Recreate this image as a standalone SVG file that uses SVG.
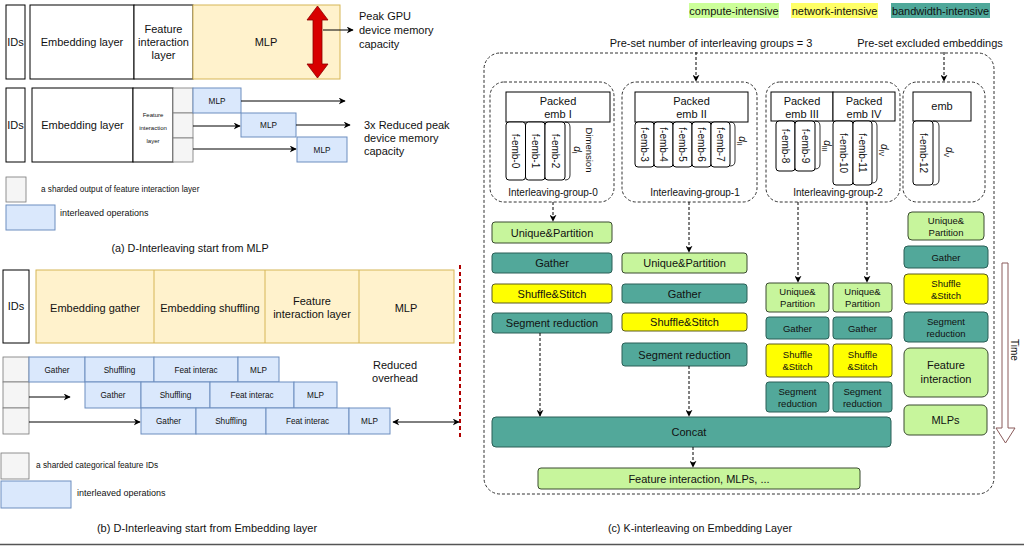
<svg xmlns="http://www.w3.org/2000/svg" width="1024" height="547" viewBox="0 0 1024 547">
<defs>
<marker id="ah" viewBox="0 0 10 10" refX="9" refY="5" markerWidth="7" markerHeight="7" orient="auto-start-reverse"><path d="M0,0 L10,5 L0,10 L3,5 z" fill="#000"/></marker>
<style>
text{font-family:"Liberation Sans",Arial,sans-serif;fill:#111;}
.w{fill:#fff;stroke:#000;stroke-width:1;}
.y{fill:#fff2cc;stroke:#d6b656;stroke-width:1;}
.b{fill:#dae8fc;stroke:#6c8ebf;stroke-width:1;}
.g{fill:#f5f5f5;stroke:#777;stroke-width:0.8;}
.cg{fill:#c7f59c;stroke:#3a4a30;stroke-width:1;}
.ct{fill:#52a89a;stroke:#2a5f56;stroke-width:1;}
.cy{fill:#ffff00;stroke:#5a5a20;stroke-width:1;}
.dash{fill:none;stroke:#333;stroke-width:1;stroke-dasharray:3 2;}
.arr{fill:none;stroke:#000;stroke-width:1;marker-end:url(#ah);}
.darr{fill:none;stroke:#000;stroke-width:1;stroke-dasharray:3 2;marker-end:url(#ah);}
.t11{font-size:11px;text-anchor:middle;}
.t10{font-size:10px;text-anchor:middle;}
.t9{font-size:9.5px;text-anchor:middle;}
.t8{font-size:8.2px;text-anchor:middle;}
.t6{font-size:6px;text-anchor:middle;}
</style>
</defs>

<!-- (a) D-Interleaving start from MLP -->
<g id="a-row1">
<rect class="w" x="6" y="5" width="19" height="74"/>
<text class="t11" x="15.5" y="46">IDs</text>
<rect class="w" x="30" y="5" width="104" height="74"/>
<text class="t11" x="82" y="46">Embedding layer</text>
<rect class="w" x="134" y="5" width="59" height="74"/>
<text class="t11" x="163.5" y="33">Feature</text>
<text class="t11" x="163.5" y="46">interaction</text>
<text class="t11" x="163.5" y="59">layer</text>
<rect class="y" x="193" y="5" width="147" height="74"/>
<text class="t11" x="266" y="46">MLP</text>
<polygon points="317.5,6 328,20 322,20 322,64 328,64 317.5,78 307,64 313,64 313,20 307,20" fill="#d80000" stroke="#8b0000" stroke-width="0.8"/>
<text font-size="11" x="359" y="20">Peak GPU</text>
<text font-size="11" x="359" y="34">device memory</text>
<text font-size="11" x="359" y="48">capacity</text>
</g>
<g id="a-row2">
<rect class="w" x="6" y="88" width="19" height="74"/>
<text class="t11" x="15.5" y="129">IDs</text>
<rect class="w" x="32" y="88" width="101" height="74"/>
<text class="t11" x="82.5" y="129">Embedding layer</text>
<rect class="w" x="133" y="88" width="40" height="74"/>
<text class="t6" x="153" y="117">Feature</text>
<text class="t6" x="153" y="130">interaction</text>
<text class="t6" x="153" y="143">layer</text>
<rect class="g" x="173" y="88" width="20" height="25"/>
<rect class="g" x="173" y="113" width="20" height="25"/>
<rect class="g" x="173" y="138" width="20" height="24"/>
<rect class="b" x="193" y="88" width="48" height="25"/>
<text class="t8" x="217" y="104">MLP</text>
<rect class="b" x="241" y="113" width="55" height="24"/>
<text class="t8" x="268.5" y="128">MLP</text>
<rect class="b" x="297" y="137" width="50" height="25"/>
<text class="t8" x="322" y="153">MLP</text>
<text font-size="11" x="364" y="129">3x Reduced peak</text>
<text font-size="11" x="364" y="142">device memory</text>
<text font-size="11" x="364" y="155">capacity</text>
</g>
<g id="a-legend">
<rect class="g" x="6" y="177" width="20" height="25"/>
<text font-size="8.2" x="41" y="192">a sharded output of feature interaction layer</text>
<rect class="b" x="6" y="205" width="49" height="25"/>
<text font-size="9" x="60" y="216">interleaved operations</text>
<text font-size="10.8" text-anchor="middle" x="190" y="252">(a) D-Interleaving start from MLP</text>
</g>

<!-- (b) D-Interleaving start from Embedding layer -->
<g id="b-row1">
<rect class="w" x="3" y="270" width="26" height="73"/>
<text class="t11" x="16" y="310">IDs</text>
<rect class="y" x="36" y="270" width="418" height="73"/>
<line x1="154" y1="270" x2="154" y2="343" stroke="#d6b656"/>
<line x1="265" y1="270" x2="265" y2="343" stroke="#d6b656"/>
<line x1="359" y1="270" x2="359" y2="343" stroke="#d6b656"/>
<text class="t11" x="95" y="312">Embedding gather</text>
<text class="t11" x="210" y="312">Embedding shuffling</text>
<text class="t11" x="312" y="305">Feature</text>
<text class="t11" x="312" y="318">interaction layer</text>
<text class="t11" x="406" y="312">MLP</text>
</g>
<g id="b-rows">
<rect class="g" x="3" y="357" width="26" height="25"/>
<rect class="g" x="3" y="382" width="26" height="26"/>
<rect class="g" x="3" y="408" width="26" height="26"/>
<rect class="b" x="29" y="357" width="56" height="25"/><text class="t8" x="57" y="372.5">Gather</text>
<rect class="b" x="85" y="357" width="69" height="25"/><text class="t8" x="119.5" y="372.5">Shuffling</text>
<rect class="b" x="154" y="357" width="84" height="25"/><text class="t8" x="196" y="372.5">Feat interac</text>
<rect class="b" x="238" y="357" width="41" height="25"/><text class="t8" x="258.5" y="372.5">MLP</text>
<rect class="b" x="85" y="382" width="56" height="26"/><text class="t8" x="113" y="398">Gather</text>
<rect class="b" x="141" y="382" width="69" height="26"/><text class="t8" x="175.5" y="398">Shuffling</text>
<rect class="b" x="210" y="382" width="84" height="26"/><text class="t8" x="252" y="398">Feat interac</text>
<rect class="b" x="294" y="382" width="43" height="26"/><text class="t8" x="315.5" y="398">MLP</text>
<rect class="b" x="141" y="408" width="55" height="26"/><text class="t8" x="168.5" y="424">Gather</text>
<rect class="b" x="196" y="408" width="70" height="26"/><text class="t8" x="231" y="424">Shuffling</text>
<rect class="b" x="266" y="408" width="83" height="26"/><text class="t8" x="307.5" y="424">Feat interac</text>
<rect class="b" x="349" y="408" width="41" height="26"/><text class="t8" x="369.5" y="424">MLP</text>
<text class="t11" x="395" y="369">Reduced</text>
<text class="t11" x="395" y="382">overhead</text>
<line x1="460" y1="265" x2="460" y2="437" stroke="#b00000" stroke-width="2" stroke-dasharray="4 3"/>
</g>
<g id="b-legend">
<rect class="g" x="1" y="453" width="28" height="26"/>
<text font-size="8.3" x="36" y="468">a sharded categorical feature IDs</text>
<rect class="b" x="1" y="481" width="70" height="27"/>
<text font-size="9" x="77" y="496">interleaved operations</text>
<text font-size="11" text-anchor="middle" x="207" y="532">(b) D-Interleaving start from Embedding layer</text>
</g>

<!-- (c) K-interleaving -->
<g id="c-legend">
<rect x="689" y="3" width="90" height="15" fill="#ccff99"/>
<text class="t11" x="734" y="14.5">compute-intensive</text>
<rect x="791" y="3" width="87" height="15" fill="#ffff66"/>
<text class="t11" x="834.5" y="14.5">network-intensive</text>
<rect x="891" y="3" width="99" height="15" fill="#4fa89a"/>
<text class="t11" x="940.5" y="14.5">bandwidth-intensive</text>
<text class="t11" x="711" y="47">Pre-set number of interleaving groups = 3</text>
<text class="t11" x="930" y="47">Pre-set excluded embeddings</text>
</g>
<g id="c-outer">
<rect class="dash" x="484" y="53" width="510" height="441" rx="16"/>
</g>
<g id="group0">
<rect class="dash" x="490" y="82" width="124" height="120" rx="14"/>
<rect class="w" x="506" y="92" width="104" height="30"/>
<text class="t11" x="558" y="105">Packed</text>
<text class="t11" x="558" y="118">emb I</text>
<rect class="w" x="506" y="122" width="19.5" height="58" rx="3"/>
<rect class="w" x="525.5" y="122" width="19.5" height="58" rx="3"/>
<rect class="w" x="545" y="122" width="20" height="58" rx="3"/>
<text class="t10" transform="translate(515.75,151) rotate(90)" y="3.5">f-emb-0</text>
<text class="t10" transform="translate(535.25,151) rotate(90)" y="3.5">f-emb-1</text>
<text class="t10" transform="translate(555,151) rotate(90)" y="3.5">f-emb-2</text>
<path d="M565,122 q5,0 5,5 v48 q0,5 -5,5" fill="none" stroke="#000" stroke-width="0.8"/>
<text class="t10" transform="translate(574,150) rotate(90)" font-style="italic">d<tspan font-size="7" dy="2" font-style="normal">I</tspan></text>
<text class="t9" transform="translate(586,150) rotate(90)" font-size="9">Dimension</text>
<text class="t10" x="553" y="196">Interleaving-group-0</text>
</g>
<g id="group1">
<rect class="dash" x="622" y="82" width="135" height="120" rx="14"/>
<rect class="w" x="635" y="92" width="113" height="30"/>
<text class="t11" x="691.5" y="105">Packed</text>
<text class="t11" x="691.5" y="118">emb II</text>
<rect class="w" x="635" y="122" width="19" height="45" rx="3"/>
<rect class="w" x="654" y="122" width="19" height="45" rx="3"/>
<rect class="w" x="673" y="122" width="19" height="45" rx="3"/>
<rect class="w" x="692" y="122" width="19" height="45" rx="3"/>
<rect class="w" x="711" y="122" width="19" height="45" rx="3"/>
<text class="t10" transform="translate(644.5,144.5) rotate(90)" y="3.5">f-emb-3</text>
<text class="t10" transform="translate(663.5,144.5) rotate(90)" y="3.5">f-emb-4</text>
<text class="t10" transform="translate(682.5,144.5) rotate(90)" y="3.5">f-emb-5</text>
<text class="t10" transform="translate(701.5,144.5) rotate(90)" y="3.5">f-emb-6</text>
<text class="t10" transform="translate(720.5,144.5) rotate(90)" y="3.5">f-emb-7</text>
<path d="M730,122 q5,0 5,5 v34 q0,5 -5,5" fill="none" stroke="#000" stroke-width="0.8"/>
<text class="t10" transform="translate(739,141) rotate(90)" font-style="italic">d<tspan font-size="7" dy="2" font-style="normal">II</tspan></text>
<text class="t10" x="695" y="196">Interleaving-group-1</text>
</g>
<g id="group2">
<rect class="dash" x="766" y="82" width="134" height="120" rx="14"/>
<rect class="w" x="771" y="92" width="62" height="29"/>
<text class="t11" x="802" y="105">Packed</text>
<text class="t11" x="802" y="118">emb III</text>
<rect class="w" x="833" y="92" width="62" height="29"/>
<text class="t11" x="864" y="105">Packed</text>
<text class="t11" x="864" y="118">emb IV</text>
<rect class="w" x="776" y="121" width="19" height="50" rx="3"/>
<rect class="w" x="795" y="121" width="20" height="50" rx="3"/>
<text class="t10" transform="translate(785.5,146) rotate(90)" y="3.5">f-emb-8</text>
<text class="t10" transform="translate(805,146) rotate(90)" y="3.5">f-emb-9</text>
<path d="M815,121 q5,0 5,5 v38 q0,5 -5,5" fill="none" stroke="#000" stroke-width="0.8"/>
<text class="t10" transform="translate(824,146) rotate(90)" font-style="italic">d<tspan font-size="7" dy="2" font-style="normal">III</tspan></text>
<rect class="w" x="833" y="121" width="20" height="64" rx="3"/>
<rect class="w" x="853" y="121" width="19" height="64" rx="3"/>
<text class="t10" transform="translate(843,153) rotate(90)" y="3.5">f-emb-10</text>
<text class="t10" transform="translate(862.5,153) rotate(90)" y="3.5">f-emb-11</text>
<path d="M872,121 q5,0 5,5 v52 q0,5 -5,5" fill="none" stroke="#000" stroke-width="0.8"/>
<text class="t10" transform="translate(881,150) rotate(90)" font-style="italic">d<tspan font-size="7" dy="2" font-style="normal">IV</tspan></text>
<text class="t10" x="838" y="196">Interleaving-group-2</text>
</g>
<g id="group-excluded">
<rect class="dash" x="903" y="82" width="82" height="120" rx="14"/>
<rect class="w" x="913" y="92" width="58" height="29"/>
<text class="t11" x="942" y="110">emb</text>
<rect class="w" x="913" y="121" width="20" height="64" rx="3"/>
<text class="t10" transform="translate(923,153) rotate(90)" y="3.5">f-emb-12</text>
<path d="M933,121 q6,0 6,5 v54 q0,5 -6,5" fill="none" stroke="#000" stroke-width="0.8"/>
<text class="t10" transform="translate(946,152) rotate(90)" font-style="italic">d<tspan font-size="7" dy="2" font-style="normal">V</tspan></text>
</g>
<g id="col0">
<rect class="cg" x="492" y="222" width="120" height="21" rx="3"/><text class="t11" x="552" y="236.5">Unique&amp;Partition</text>
<rect class="ct" x="492" y="253" width="120" height="20" rx="3"/><text class="t11" x="552" y="267">Gather</text>
<rect class="cy" x="492" y="284" width="120" height="19" rx="3"/><text class="t11" x="552" y="297.5">Shuffle&amp;Stitch</text>
<rect class="ct" x="492" y="313" width="120" height="20" rx="3"/><text class="t11" x="552" y="327">Segment reduction</text>
</g>
<g id="col1">
<rect class="cg" x="622" y="253" width="125" height="20" rx="3"/><text class="t11" x="684.5" y="267">Unique&amp;Partition</text>
<rect class="ct" x="622" y="284" width="125" height="19" rx="3"/><text class="t11" x="684.5" y="297.5">Gather</text>
<rect class="cy" x="622" y="313" width="125" height="18" rx="3"/><text class="t11" x="684.5" y="326">Shuffle&amp;Stitch</text>
<rect class="ct" x="622" y="343" width="125" height="23" rx="3"/><text class="t11" x="684.5" y="358.5">Segment reduction</text>
</g>
<g id="col2a">
<rect class="cg" x="766" y="283" width="63" height="29" rx="3"/><text class="t9" x="797.5" y="295">Unique&amp;</text><text class="t9" x="797.5" y="307">Partition</text>
<rect class="ct" x="766" y="317" width="63" height="22" rx="3"/><text class="t9" x="797.5" y="331.5">Gather</text>
<rect class="cy" x="766" y="344" width="63" height="33" rx="3"/><text class="t9" x="797.5" y="358">Shuffle</text><text class="t9" x="797.5" y="370">&amp;Stitch</text>
<rect class="ct" x="766" y="382" width="63" height="30" rx="3"/><text class="t9" x="797.5" y="395">Segment</text><text class="t9" x="797.5" y="407">reduction</text>
</g>
<g id="col2b">
<rect class="cg" x="833" y="283" width="59" height="29" rx="3"/><text class="t9" x="862.5" y="295">Unique&amp;</text><text class="t9" x="862.5" y="307">Partition</text>
<rect class="ct" x="833" y="317" width="59" height="22" rx="3"/><text class="t9" x="862.5" y="331.5">Gather</text>
<rect class="cy" x="833" y="344" width="59" height="33" rx="3"/><text class="t9" x="862.5" y="358">Shuffle</text><text class="t9" x="862.5" y="370">&amp;Stitch</text>
<rect class="ct" x="833" y="382" width="59" height="30" rx="3"/><text class="t9" x="862.5" y="395">Segment</text><text class="t9" x="862.5" y="407">reduction</text>
</g>
<g id="col3">
<rect class="cg" x="908" y="212" width="76" height="28" rx="4"/><text class="t9" x="946" y="224">Unique&amp;</text><text class="t9" x="946" y="236">Partition</text>
<rect class="ct" x="904" y="246" width="84" height="22" rx="4"/><text class="t9" x="946" y="260.5">Gather</text>
<rect class="cy" x="904" y="274" width="84" height="30" rx="4"/><text class="t9" x="946" y="287">Shuffle</text><text class="t9" x="946" y="299">&amp;Stitch</text>
<rect class="ct" x="904" y="312" width="84" height="30" rx="4"/><text class="t9" x="946" y="324.5">Segment</text><text class="t9" x="946" y="336.5">reduction</text>
<rect class="cg" x="904" y="348" width="84" height="49" rx="6"/><text class="t11" x="946" y="369">Feature</text><text class="t11" x="946" y="383">interaction</text>
<rect class="cg" x="904" y="405" width="83" height="30" rx="5"/><text class="t11" x="945.5" y="424">MLPs</text>
</g>
<g id="concat">
<rect class="ct" x="492" y="417" width="399" height="30" rx="4"/>
<text class="t11" x="689" y="436">Concat</text>
</g>
<g id="final">
<rect class="cg" x="538" y="468" width="322" height="21" rx="3"/>
<text class="t11" x="699" y="482.5">Feature interaction, MLPs, ...</text>
</g>
<g id="time">
<path d="M1002,263 h6 v165 h7 l-9.5,15 l-9.5,-15 h6 z" fill="#fff" stroke="#8a5a5a" stroke-width="1"/>
<text class="t10" transform="translate(1011,350) rotate(90)">Time</text>
</g>
<text font-size="10.8" text-anchor="middle" x="700" y="532">(c) K-interleaving on Embedding Layer</text>
<line x1="0" y1="544.5" x2="1024" y2="544.5" stroke="#555" stroke-width="1.5"/>

<g id="connectors">
<line class="arr" x1="323" y1="30" x2="353" y2="30"/>
<line class="arr" x1="241" y1="101" x2="345" y2="101"/>
<line class="arr" x1="296" y1="125" x2="350" y2="125"/>
<line class="arr" x1="193" y1="126" x2="240" y2="126"/>
<line class="arr" x1="193" y1="149" x2="296" y2="149"/>
<line class="arr" x1="29" y1="397" x2="70" y2="397"/>
<line class="arr" x1="29" y1="422" x2="140" y2="422"/>
<line x1="393" y1="422" x2="459" y2="422" stroke="#000" stroke-width="1" marker-start="url(#ah)" marker-end="url(#ah)"/>
<line class="darr" x1="696" y1="52" x2="696" y2="81"/>
<line class="darr" x1="944" y1="52" x2="944" y2="81"/>
<line class="darr" x1="553" y1="202" x2="553" y2="221"/>
<line class="darr" x1="689" y1="202" x2="689" y2="252"/>
<line class="darr" x1="798" y1="202" x2="798" y2="282"/>
<line class="darr" x1="867" y1="202" x2="867" y2="282"/>
<line class="darr" x1="540" y1="333" x2="540" y2="416"/>
<line class="darr" x1="689" y1="366" x2="689" y2="416"/>
<line class="darr" x1="693" y1="447" x2="693" y2="467"/>
</g>
</svg>
